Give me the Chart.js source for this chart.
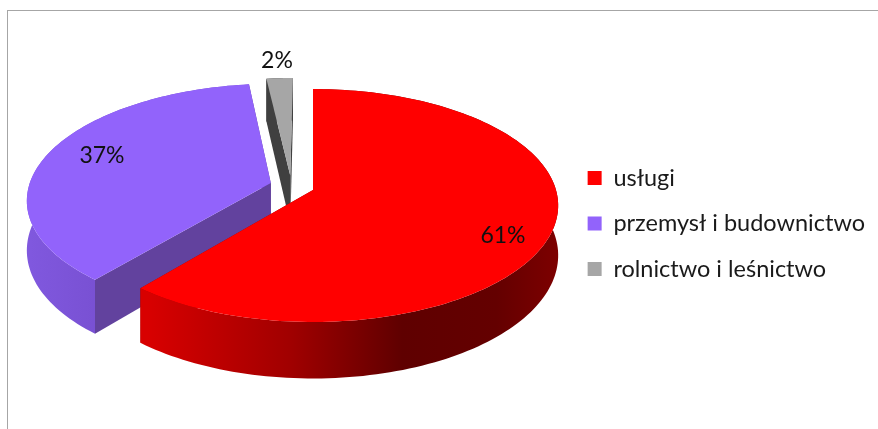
<!DOCTYPE html>
<html lang="pl">
<head>
<meta charset="utf-8">
<title>Struktura</title>
<script src="https://cdn.jsdelivr.net/npm/chart.js@4"></script>
<style>
  html, body { margin: 0; padding: 0; background: #fff; }
  #wrap { position: relative; width: 878px; height: 429px; overflow: hidden; }
  #frame { position: absolute; left: 7px; top: 10px; width: 880px; height: 440px;
           border-left: 1px solid #a6a6a6; border-top: 1px solid #a6a6a6; }
  canvas { position: absolute; left: 0; top: 0; }
</style>
</head>
<body>
<div id="wrap">
  <div id="frame"></div>
  <canvas id="pieChart" width="878" height="429"></canvas>
</div>
<script>
// dane wykresu
const categories = ["usługi", "przemysł i budownictwo", "rolnictwo i leśnictwo"];
const shares = [61, 37, 2];
const colors = ["#ff0000", "#9263fb", "#a6a6a6"];

// rzut perspektywiczny tarczy 3D
const VIEW = { cx: 313, cy: 190, rx: 243, ry: 114.4, persp: 0.133, depth: 49 };
// wysunięcie wycinków (w promieniach tarczy) i kolejność rysowania od tyłu
const EXPLODE = [[0, 0], [-0.175, -0.061], [-0.095, -0.126]];
const DRAW_ORDER = [2, 1, 0];
const LABEL_POS = [[503, 236], [102, 156], [277, 61]];
const INNER_FACE = ["#8f0000", "#62429e", "#404040"];

function project(u, v, down) {
  const s = 1 / (1 - VIEW.persp * v);
  return [VIEW.cx + VIEW.rx * u * s, VIEW.cy + VIEW.ry * v * s + (down ? VIEW.depth * s : 0)];
}

function fillPoly(ctx, points, fill) {
  ctx.beginPath();
  points.forEach((p, i) => (i ? ctx.lineTo(p[0], p[1]) : ctx.moveTo(p[0], p[1])));
  ctx.closePath();
  ctx.fillStyle = fill;
  ctx.fill();
}

function rimGradient(ctx, index) {
  if (index === 0) {
    const g = ctx.createLinearGradient(148, 0, 558, 0);
    g.addColorStop(0, "#d80000");
    g.addColorStop(0.35, "#a00000");
    g.addColorStop(0.62, "#5f0000");
    g.addColorStop(0.85, "#640000");
    g.addColorStop(1, "#7d0000");
    return g;
  }
  if (index === 1) {
    const g = ctx.createLinearGradient(30, 0, 103, 0);
    g.addColorStop(0, "#8058de");
    g.addColorStop(1, "#7850d2");
    return g;
  }
  return INNER_FACE[2];
}

// wycinki rysowane z kątów elementów Chart.js
const pie3d = {
  id: "pie3d",
  beforeDatasetsDraw(chart) {
    const ctx = chart.ctx;
    const meta = chart.getDatasetMeta(0);
    DRAW_ORDER.forEach((i) => {
      const arc = meta.data[i];
      const [ox, oy] = EXPLODE[i];
      const start = arc.startAngle;
      const end = arc.endAngle;
      const steps = Math.max(4, Math.ceil((end - start) * 40));
      const rim = [];
      for (let k = 0; k <= steps; k++) {
        const a = start + ((end - start) * k) / steps;
        rim.push([Math.cos(a) + ox, Math.sin(a) + oy]);
      }
      const topArc = rim.map((p) => project(p[0], p[1], false));
      const lowArc = rim.map((p) => project(p[0], p[1], true));
      const apexTop = project(ox, oy, false);
      const apexLow = project(ox, oy, true);

      // ściany wewnętrzne
      fillPoly(ctx, [apexTop, topArc[steps], lowArc[steps], apexLow], INNER_FACE[i]);
      fillPoly(ctx, [apexTop, topArc[0], lowArc[0], apexLow], INNER_FACE[i]);
      // bok zewnętrzny
      fillPoly(ctx, topArc.concat(lowArc.slice().reverse()), rimGradient(ctx, i));
      // wierzch
      fillPoly(ctx, [apexTop].concat(topArc), colors[i]);
    });
    return false;
  },
  // etykiety procentowe (afterDatasetsDraw nie działa po return false)
  afterDraw(chart) {
    const ctx = chart.ctx;
    ctx.save();
    ctx.font = "23px Lato";
    ctx.fillStyle = "#111111";
    ctx.textAlign = "center";
    ctx.textBaseline = "middle";
    shares.forEach((v, i) => ctx.fillText(v + "%", LABEL_POS[i][0], LABEL_POS[i][1]));
    ctx.restore();
  },
};

new Chart(document.getElementById("pieChart"), {
  type: "pie",
  data: {
    labels: categories,
    datasets: [{ data: shares, backgroundColor: colors, borderWidth: 0 }],
  },
  plugins: [pie3d],
  options: {
    responsive: false,
    animation: false,
    layout: { padding: { top: 18, right: 3 } },
    plugins: {
      tooltip: { enabled: false },
      legend: {
        position: "right",
        labels: {
          boxWidth: 14,
          boxHeight: 14,
          padding: 22,
          color: "#1a1a1a",
          font: { family: "Lato", size: 23.5 },
        },
      },
    },
  },
});
</script>
</body>
</html>
